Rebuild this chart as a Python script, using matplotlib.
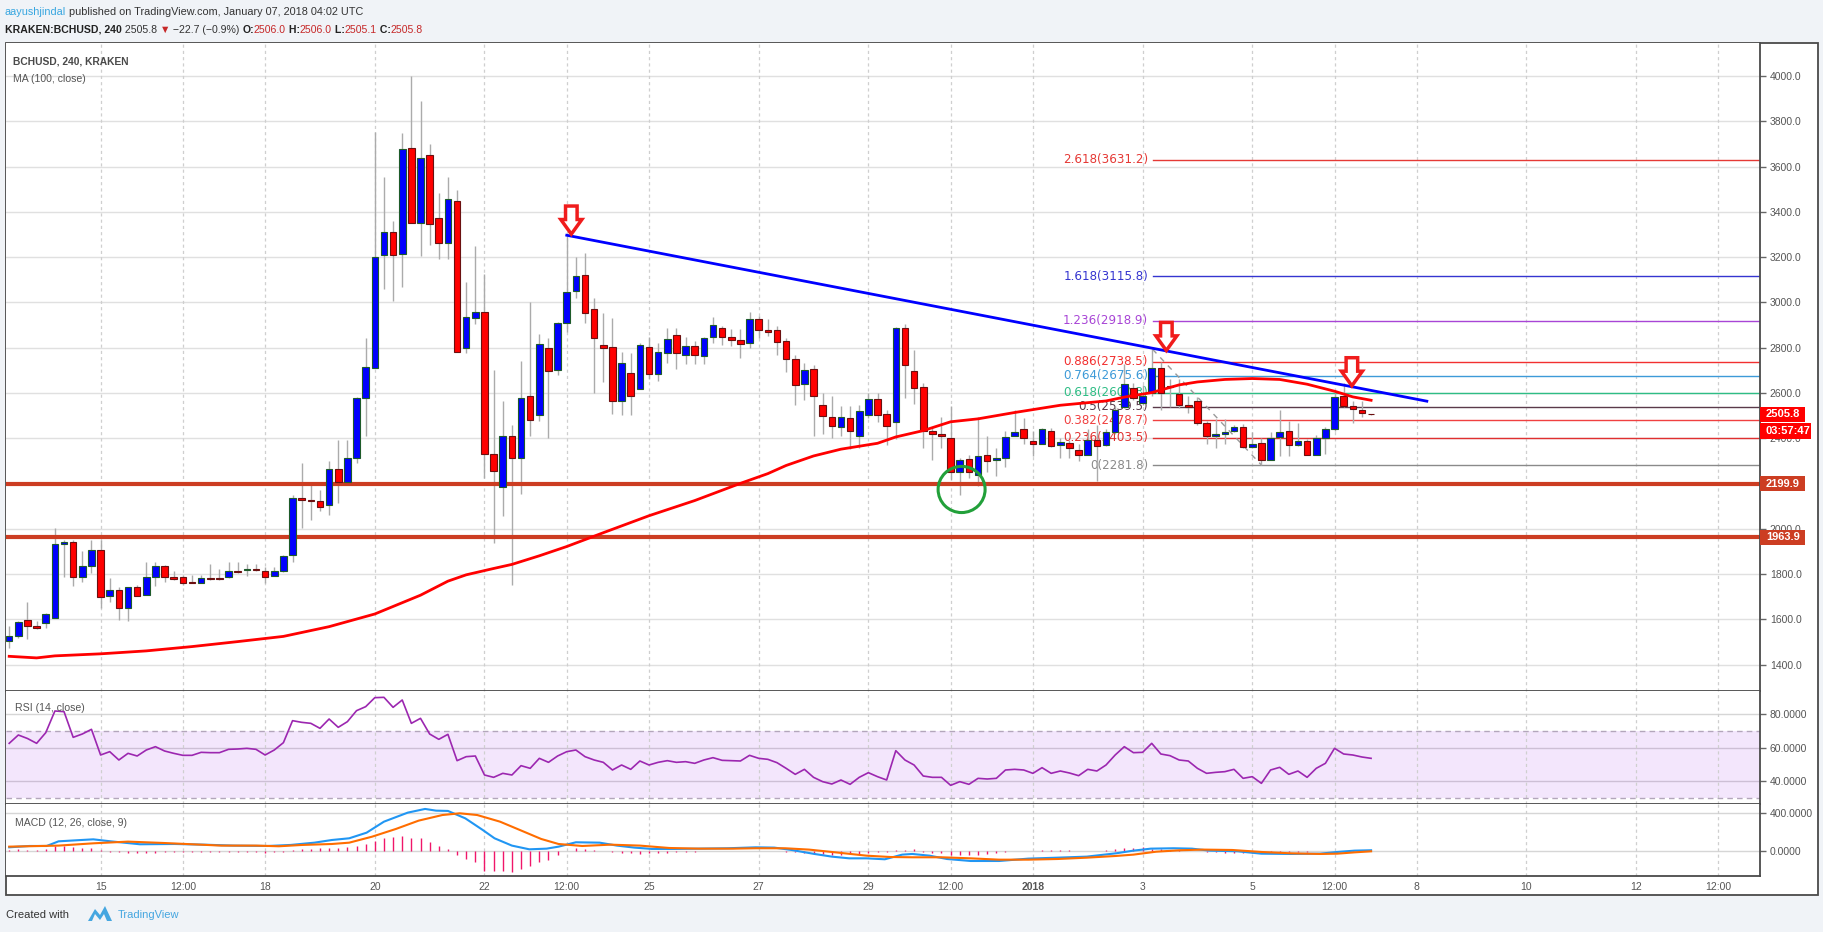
import numpy as np
import matplotlib
matplotlib.use('Agg')
import matplotlib.pyplot as plt
from matplotlib.patches import Polygon, Ellipse, Rectangle

W, H = 1824, 932

# ---- candles (4h bars, first bar Dec 13 08:00, last Jan 7 04:00) ----
opens = [1504, 1525, 1597, 1573, 1586, 1607, 1931, 1944, 1789, 1834,
         1905, 1704, 1732, 1651, 1741, 1707, 1789, 1838, 1789, 1789,
         1763, 1761, 1784, 1784, 1787, 1815, 1817, 1821, 1815, 1793,
         1813, 1883, 2138, 2127, 2121, 2104, 2263, 2207, 2315, 2580,
         2712, 3210, 3312, 3213, 3683, 3351, 3653, 3374, 3264, 3450,
         2801, 2932, 2958, 2329, 2184, 2412, 2313, 2589, 2505, 2801,
         2703, 2910, 3049, 3122, 2971, 2811, 2803, 2567, 2688, 2617,
         2803, 2686, 2775, 2855, 2766, 2807, 2762, 2846, 2887, 2848,
         2835, 2822, 2928, 2880, 2878, 2829, 2749, 2639, 2704, 2546,
         2492, 2449, 2490, 2412, 2501, 2574, 2509, 2472, 2887, 2697,
         2626, 2431, 2420, 2401, 2250, 2307, 2239, 2328, 2304, 2313,
         2412, 2440, 2390, 2375, 2434, 2369, 2378, 2349, 2328, 2393,
         2371, 2427, 2537, 2621, 2557, 2598, 2710, 2630, 2595, 2548,
         2567, 2468, 2412, 2421, 2434, 2449, 2362, 2378, 2306, 2406,
         2434, 2369, 2388, 2328, 2403, 2440, 2589, 2542, 2527, 2506.0]
highs = [1569, 1595, 1679, 1595, 1629, 2002, 1950, 1950, 1901, 1953,
         1950, 1784, 1741, 1745, 1754, 1853, 1853, 1840, 1815, 1797,
         1797, 1797, 1845, 1821, 1853, 1853, 1845, 1845, 1830, 1830,
         1886, 2151, 2291, 2198, 2170, 2300, 2393, 2393, 2582, 2844,
         3754, 3553, 3359, 3750, 4002, 3890, 3702, 3484, 3553, 3497,
         3092, 3251, 3124, 2701, 2565, 2458, 2742, 3000, 2859, 2841,
         2912, 3297, 3200, 3219, 3020, 2952, 2930, 2781, 2775, 2822,
         2848, 2822, 2889, 2889, 2846, 2829, 2846, 2934, 2896, 2882,
         2882, 2960, 2939, 2926, 2896, 2841, 2770, 2733, 2723, 2598,
         2589, 2542, 2542, 2546, 2598, 2598, 2527, 2891, 2904, 2792,
         2645, 2449, 2492, 2542, 2313, 2328, 2496, 2412, 2356, 2434,
         2527, 2490, 2434, 2444, 2444, 2403, 2393, 2375, 2440, 2458,
         2440, 2542, 2729, 2645, 2636, 2794, 2738, 2660, 2663, 2589,
         2583, 2477, 2486, 2486, 2458, 2464, 2427, 2403, 2430, 2527,
         2477, 2468, 2397, 2416, 2449, 2598, 2645, 2565, 2565, 2506.0]
lows = [1474, 1517, 1513, 1558, 1564, 1605, 1787, 1748, 1765, 1806,
        1651, 1679, 1597, 1591, 1704, 1707, 1748, 1765, 1774, 1752,
        1759, 1761, 1776, 1776, 1785, 1806, 1793, 1812, 1759, 1791,
        1811, 1853, 2002, 2039, 2080, 2063, 2114, 2205, 2291, 2412,
        2712, 3061, 3005, 3068, 3351, 3204, 3254, 3191, 3191, 2781,
        2777, 2906, 2225, 1937, 2058, 1754, 2155, 2412, 2477, 2403,
        2678, 2869, 3020, 2910, 2602, 2650, 2509, 2505, 2505, 2617,
        2662, 2654, 2734, 2704, 2727, 2727, 2729, 2822, 2813, 2807,
        2753, 2800, 2844, 2852, 2766, 2695, 2546, 2570, 2412, 2418,
        2403, 2412, 2352, 2356, 2490, 2471, 2371, 2397, 2580, 2552,
        2356, 2304, 2356, 2216, 2151, 2225, 2188, 2250, 2235, 2272,
        2410, 2375, 2322, 2373, 2360, 2315, 2315, 2300, 2326, 2210,
        2365, 2421, 2533, 2570, 2546, 2589, 2524, 2540, 2533, 2514,
        2458, 2375, 2356, 2375, 2430, 2358, 2356, 2281, 2304, 2322,
        2322, 2365, 2326, 2326, 2332, 2434, 2540, 2468, 2492, 2505.1]
closes = [1528, 1590, 1573, 1560, 1625, 1931, 1944, 1789, 1834, 1905,
          1700, 1732, 1651, 1741, 1704, 1789, 1838, 1789, 1778, 1761,
          1761, 1784, 1778, 1778, 1815, 1808, 1821, 1819, 1789, 1815,
          1882, 2138, 2127, 2125, 2095, 2263, 2207, 2315, 2580, 2714,
          3200, 3312, 3210, 3679, 3351, 3640, 3348, 3264, 3456, 2781,
          2934, 2958, 2332, 2255, 2412, 2313, 2580, 2481, 2816, 2697,
          2910, 3046, 3116, 2952, 2844, 2801, 2567, 2733, 2585, 2811,
          2686, 2781, 2837, 2775, 2807, 2766, 2844, 2900, 2846, 2833,
          2816, 2928, 2878, 2870, 2826, 2749, 2636, 2701, 2589, 2499,
          2455, 2492, 2434, 2520, 2574, 2505, 2453, 2887, 2723, 2621,
          2431, 2418, 2408, 2250, 2304, 2250, 2324, 2300, 2313, 2406,
          2427, 2403, 2375, 2440, 2365, 2384, 2356, 2328, 2393, 2365,
          2427, 2527, 2641, 2576, 2589, 2710, 2602, 2625, 2546, 2539,
          2468, 2412, 2421, 2430, 2449, 2360, 2375, 2306, 2403, 2430,
          2369, 2388, 2328, 2403, 2440, 2583, 2542, 2529, 2514, 2505.8]

# MA(100, close)
ma_bar = [0, 3, 5, 10, 15, 20, 25, 30, 35, 40, 45, 48, 50, 53, 55, 58, 61, 65, 70, 75,
          80, 83, 85, 88, 91, 95, 97, 100, 103, 106, 110, 115, 120, 122, 125, 128, 130, 133,
          136, 139, 142, 145, 147, 149]
ma_val = [1437, 1430, 1439, 1448, 1461, 1480, 1502, 1525, 1568, 1624, 1707, 1769, 1797,
          1825, 1843, 1881, 1922, 1983, 2058, 2125, 2201, 2244, 2280, 2322, 2352, 2378, 2406,
          2434, 2473, 2486, 2514, 2546, 2565, 2582, 2602, 2636, 2649, 2660, 2664, 2660,
          2639, 2608, 2583, 2568]

# RSI(14)
rsi = [62.6, 67.6, 65.5, 62.6, 69.0, 82.0, 81.6, 66.2, 68.2, 71.0,
       55.6, 57.6, 52.6, 56.6, 55.0, 58.6, 60.6, 58.0, 56.6, 55.4,
       55.4, 57.2, 57.0, 57.0, 59.0, 59.2, 59.6, 59.0, 55.6, 58.6,
       63.0, 76.2, 75.2, 74.6, 71.6, 77.2, 72.2, 75.6, 82.2, 84.6,
       90.0, 90.2, 84.2, 88.6, 74.6, 77.6, 68.2, 65.0, 68.0, 52.2,
       54.6, 55.0, 43.6, 42.2, 44.6, 43.6, 49.2, 47.6, 53.6, 51.2,
       55.0, 57.6, 58.6, 54.6, 52.6, 51.2, 46.6, 49.6, 47.0, 52.0,
       49.6, 51.2, 52.2, 51.2, 51.6, 50.6, 52.6, 54.0, 52.4, 52.2,
       52.0, 55.4, 53.6, 53.0, 51.0, 47.6, 44.0, 47.0, 42.2, 39.6,
       38.2, 40.6, 38.0, 42.2, 45.0, 42.6, 40.6, 58.2, 52.6, 49.6,
       43.0, 42.2, 42.2, 37.4, 39.6, 38.0, 41.6, 41.2, 41.6, 46.6,
       47.0, 46.6, 44.6, 48.0, 44.6, 46.0, 44.8, 43.2, 47.0, 46.0,
       49.6, 55.6, 60.6, 57.0, 57.2, 62.6, 56.2, 55.2, 52.6, 52.0,
       47.6, 44.6, 45.2, 45.6, 47.0, 41.6, 42.6, 38.6, 46.6, 48.2,
       44.0, 46.0, 42.2, 47.6, 50.6, 59.6, 56.2, 55.6, 54.4, 53.6]

# MACD(12, 26, close, 9)
macd_x = [0, 2.2, 4.1, 5.4, 7.9, 9.2, 11.1, 14.3, 18.1, 21.3, 24.5, 28.3, 30.8, 33.4, 35.3,
          37.2, 39.1, 41.0, 43.6, 45.5, 46.7, 48.0, 49.9, 51.8, 53.1, 55.0, 56.9, 58.8, 60.1,
          62.0, 64.6, 66.5, 68.4, 70.3, 72.8, 75.4, 78.6, 81.7, 83.7, 85.6, 88.1, 90.0, 91.9,
          93.8, 95.8, 97.7, 98.8, 100.7, 102.6, 105.2, 108.3, 111.5, 114.7, 117.9, 121.1,
          123.0, 124.9, 127.4, 129.4, 131.3, 134.4, 137.0, 140.2, 143.4, 145.3, 147.2, 149.0]
macd_v = [42, 56, 56, 105, 119, 126, 105, 74, 77, 70, 60, 56, 67, 91, 119, 137, 196, 312, 407,
          446, 428, 425, 347, 225, 137, 60, 21, 28, 49, 95, 91, 60, 39, 25, 25, 28, 32, 42, 39,
          14, -28, -56, -74, -74, -84, -35, -28, -46, -81, -102, -102, -77, -67, -56, -21, 7,
          28, 32, 28, 7, 0, -25, -28, -25, -7, 7, 11]
sig_x = [0, 5.4, 9.2, 13.0, 16.8, 20.0, 23.2, 27.0, 29.5, 32.1, 35.3, 37.2, 39.7, 42.3, 44.8,
         47.4, 49.3, 51.2, 53.7, 56.3, 58.2, 60.1, 62.7, 65.8, 69.0, 72.2, 75.4, 79.2, 81.7,
         84.9, 87.5, 90.7, 93.8, 96.4, 98.8, 102.0, 105.2, 108.3, 111.5, 114.7, 117.9, 121.1,
         123.0, 125.5, 128.1, 130.6, 133.8, 137.0, 140.2, 143.4, 145.3, 147.2, 149.0]
sig_v = [49, 60, 84, 102, 88, 74, 60, 60, 53, 67, 77, 91, 154, 235, 323, 382, 400, 382, 312,
         207, 130, 77, 56, 70, 60, 35, 28, 28, 32, 32, 18, -14, -46, -60, -63, -63, -74, -88,
         -88, -81, -67, -49, -35, -4, 11, 18, 14, -7, -21, -28, -25, -11, 0]
hist = [14, 21, 18, 14, 28, 53, 53, 49, 32, 39, 14,
        -7, -10, -14, -18, -14, -14, -11, -11, -10, -11, -10, -11, -10, -11, -11, -10, -11, -14, -11, -4,
        14, 21, 25, 32, 32, 39, 49, 60, 74, 105, 137, 147, 161, 144, 140, 98, 56, 25,
        -35, -81, -112, -204, -207, -211, -214, -186, -151, -112, -91, -39,
        4, 32, 28, 14, 7,
        -7, -14, -21, -25, -21, -18, -14, -11, -7, -4, -2,
        0, 4, 4, 7, 7, 7, 4, 0,
        -7, -11, -18, -25, -32, -35, -35, -32, -28, -18, -11, -4, 14, 18,
        21, -7, -18, -21, -35, -42, -42, -35, -28, -21,
        -11, 0, 4, 7, 11, 14, 14, 11, 7, 7,
        7, 18, 28, 35, 39, 42, 28, 25, 18, 11,
        7, 0, -7, -11, -14, -14, -21, -14, -11, -7,
        -7, -11, -7, -7, 0, 0, 7, 7, 11, 11, 7]

# time axis (bar index of each label)
tick_pos = [10, 19, 28, 40, 52, 61, 70, 82, 94, 103, 112, 124, 136, 145, 154, 166, 178, 187]
tick_lab = ['15', '12:00', '18', '20', '22', '12:00', '25', '27', '29', '12:00', '2018',
            '3', '5', '12:00', '8', '10', '12', '12:00']

# drawings
trend_x = [61, 155.1]
trend_y = [3297, 2564]
fibc_x = [125.1, 137.0]
fibc_y = [2793, 2282]
fib_ratio = ['2.618', '1.618', '1.236', '0.886', '0.764', '0.618', '0.5', '0.382', '0.236', '0']
fib_price = [3631.2, 3115.8, 2918.9, 2738.5, 2675.6, 2600.3, 2539.5, 2478.7, 2403.5, 2281.8]
fib_color = ['#e53935', '#3535d0', '#a845d6', '#f23030', '#3d9ad8', '#2ebd85',
             '#5a3a4a', '#f04040', '#e03030', '#8a8a8a']
support = [2199.9, 1963.9]
arrow_bar = [61.5, 126.6, 146.9]
arrow_top = [3426, 2912, 2756]

idx = np.arange(len(closes))
o = np.array(opens); c = np.array(closes); hi = np.array(highs); lo = np.array(lows)

plt.rcParams['font.family'] = ['Liberation Sans', 'DejaVu Sans']

fig = plt.figure(figsize=(W / 100, H / 100), dpi=100, facecolor='#f0f3f7')


def fx(px):
    return px / W


def fy(py):
    return 1 - py / H


fig.patches.append(Rectangle((fx(6), fy(895)), fx(1818) - fx(6), fy(43) - fy(895),
                             transform=fig.transFigure, fc='white', ec='#4a4a4a',
                             lw=1.3, zorder=-1))


def pane(top, bot):
    a = fig.add_axes([fx(6), fy(bot), fx(1760) - fx(6), fy(top) - fy(bot)])
    a.set_xlim(-0.35, 191.55)
    for s in ['left', 'top']:
        a.spines[s].set_visible(False)
    for s in ['right', 'bottom']:
        a.spines[s].set_color('#4a4a4a')
        a.spines[s].set_linewidth(1.3)
    a.yaxis.tick_right()
    a.tick_params(axis='y', direction='out', length=4, width=1, color='#666',
                  labelsize=7.5, labelcolor='#555', pad=3)
    a.tick_params(axis='x', length=0, labelbottom=False)
    for t in tick_pos:
        a.axvline(t, color='#cfcfcf', ls=(0, (2.5, 2.5)), lw=0.9, zorder=0.5)
    return a


ax = pane(43, 691)
ax_rsi = pane(691, 804)
ax_macd = pane(804, 876)

# ---- main pane ----
ax.set_ylim(1283.8, 4146.2)
yt = np.arange(1400, 4001, 200)
ax.set_yticks(yt)
ax.set_yticklabels(['%.1f' % v for v in yt])
for v in yt:
    ax.axhline(v, color='#e0e0e0', lw=1, zorder=0.4)

ax.plot(ma_bar, ma_val, color='#ff0000', lw=2, zorder=3.5)

for v in support:
    ax.axhline(v, color='#cc3d22', lw=3, zorder=2.5)

for r, p, col in zip(fib_ratio, fib_price, fib_color):
    ax.plot([fibc_x[0], 191.55], [p, p], color=col, lw=1, zorder=1.5)
    ax.text(124.6, p, '%s(%.1f)' % (r, p), color=col, fontsize=8.6, ha='right',
            va='center', family='DejaVu Sans', zorder=1.6)
ax.plot(fibc_x, fibc_y, color='#9a9a9a', lw=1, ls=(0, (4, 4)), zorder=1.6)

up = c >= o
body_lo = np.minimum(o, c)
body_h = np.maximum(np.abs(c - o), 3)
ax.vlines(idx, lo, hi, color='#ababab', lw=1, zorder=2)
ax.bar(idx[up], body_h[up], bottom=body_lo[up], width=0.72, color='#0000ff',
       edgecolor='#1e5b2a', lw=0.8, zorder=3)
ax.bar(idx[~up], body_h[~up], bottom=body_lo[~up], width=0.72, color='#ff0000',
       edgecolor='#6b1010', lw=0.8, zorder=3)

ax.plot(trend_x, trend_y, color='#0000ff', lw=2, zorder=4)

aw, ah = 2.3, 124
for bx, top in zip(arrow_bar, arrow_top):
    sw = aw * 0.55
    mid = top - ah * 0.48
    pts = [(bx - sw / 2, top), (bx + sw / 2, top), (bx + sw / 2, mid), (bx + aw / 2, mid),
           (bx, top - ah), (bx - aw / 2, mid), (bx - sw / 2, mid)]
    ax.add_patch(Polygon(pts, closed=True, fc='white', ec='#f01c1c', lw=2.5, zorder=5))

ax.add_patch(Ellipse((104.2, 2174), 5.14, 204, fc='none', ec='#22a03a', lw=2.2, zorder=5))

# ---- RSI ----
ax_rsi.set_ylim(26.2, 94.0)
ax_rsi.set_yticks([40, 60, 80])
ax_rsi.set_yticklabels(['40.0000', '60.0000', '80.0000'])
ax_rsi.axhspan(30, 70, fc='#f3e6fc', ec='none', zorder=0.2)
ax_rsi.axhline(80, color='#d6d6d6', lw=1, zorder=0.4)
for v in [60, 40]:
    ax_rsi.axhline(v, color='#cdbfd5', lw=1, zorder=0.4)
for v in [70, 30]:
    ax_rsi.axhline(v, color='#b3a6bb', lw=1, ls=(0, (4, 3)), zorder=0.6)
ax_rsi.plot(idx, rsi, color='#9c27b0', lw=1.2, zorder=3)

# ---- MACD ----
ax_macd.set_ylim(-260, 498)
ax_macd.set_yticks([0, 400])
ax_macd.set_yticklabels(['0.0000', '400.0000'])
for v in [0, 400]:
    ax_macd.axhline(v, color='#d6d6d6', lw=1, zorder=0.4)
ax_macd.vlines(idx, 0, hist, color='#f0166a', lw=1, zorder=2)
ax_macd.plot(macd_x, macd_v, color='#2196f3', lw=1.5, zorder=3)
ax_macd.plot(sig_x, sig_v, color='#ff6d00', lw=1.5, zorder=3)
ax_macd.set_xticks(tick_pos)
ax_macd.set_xticklabels(tick_lab)
ax_macd.tick_params(axis='x', length=0, pad=4, labelsize=7.5, labelcolor='#555',
                    labelbottom=True)
ax_macd.get_xticklabels()[10].set_fontweight('bold')


# ---- price tags on the axis ----
def tag(a, val, text, fc, x1=1805, h=15, dy=0):
    yd = a.transData.transform((0, val))[1] + dy
    fig.patches.append(Rectangle((fx(1760), (yd - h / 2) / H), (x1 - 1760) / W, h / H,
                                 transform=fig.transFigure, fc=fc, ec='none', zorder=5))
    fig.text(fx(1766), yd / H, text, color='white', fontweight='bold', fontsize=8,
             ha='left', va='center', zorder=6)


tag(ax, closes[-1], '%.1f' % closes[-1], '#ff0000')
tag(ax, closes[-1], '03:57:47', '#ff0000', x1=1811, h=16, dy=-17)
for v in support:
    tag(ax, v, '%.1f' % v, '#cc3d22')

# ---- texts ----
renderer = fig.canvas.get_renderer()


def seq(x, y, parts, size=7.8):
    for s, col, w in parts:
        t = fig.text(fx(x), fy(y), s, color=col, fontweight=w, fontsize=size,
                     ha='left', va='center')
        x += t.get_window_extent(renderer).width


seq(5, 12, [('aayushjindal', '#37a6e0', 'normal'),
            (' published on TradingView.com, January 07, 2018 04:02 UTC', '#333333', 'normal')])
red = '#c62828'
seq(5, 30, [('KRAKEN:BCHUSD, 240', '#222222', 'bold'), (' 2505.8 ', '#333333', 'normal'),
            ('▼', red, 'normal'), (' −22.7 (−0.9%) ', '#333333', 'normal'),
            ('O:', '#222222', 'bold'), ('2506.0', red, 'normal'),
            (' H:', '#222222', 'bold'), ('2506.0', red, 'normal'),
            (' L:', '#222222', 'bold'), ('2505.1', red, 'normal'),
            (' C:', '#222222', 'bold'), ('2505.8', red, 'normal')], size=7.6)

fig.text(fx(13), fy(61), 'BCHUSD, 240, KRAKEN', color='#4a4a4a', fontweight='bold',
         fontsize=7.4, va='center')
fig.text(fx(13), fy(79), 'MA (100, close)', color='#555555', fontsize=7.6, va='center')
fig.text(fx(15), fy(708), 'RSI (14, close)', color='#555555', fontsize=7.6, va='center')
fig.text(fx(15), fy(823), 'MACD (12, 26, close, 9)', color='#555555', fontsize=7.6,
         va='center')

fig.text(fx(6), fy(915), 'Created with', color='#333333', fontsize=8, va='center')
logo = [(88, 921), (95, 909), (100, 915), (105, 906), (112, 921), (107, 921),
        (104, 914), (100, 920), (95, 914), (92, 921)]
fig.patches.append(Polygon([(fx(px), fy(py)) for px, py in logo], closed=True,
                           transform=fig.transFigure, fc='#45a6e0', ec='none'))
fig.text(fx(118), fy(915), 'TradingView', color='#45a6e0', fontsize=8, va='center')

fig.savefig('out.png', dpi=100, facecolor=fig.get_facecolor())
